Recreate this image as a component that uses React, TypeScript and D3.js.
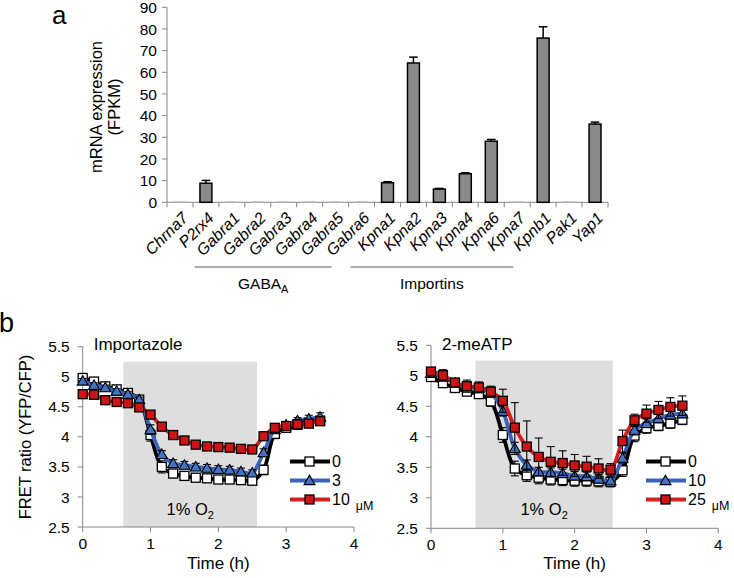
import React from 'react';
import * as d3 from 'd3';

const FONT = "'Liberation Sans', Arial, Helvetica, sans-serif";
const AXIS = '#868686';

// ---------- Panel a data ----------
const genes = ['Chrna7', 'P2rx4', 'Gabra1', 'Gabra2', 'Gabra3', 'Gabra4', 'Gabra5', 'Gabra6', 'Kpna1', 'Kpna2', 'Kpna3', 'Kpna4', 'Kpna6', 'Kpna7', 'Kpnb1', 'Pak1', 'Yap1'];
const expression = [0, 8.8, 0, 0, 0, 0, 0, 0, 9.0, 64.3, 6.1, 13.2, 28.2, 0, 75.8, 0, 36.1];
const expressionErr = [0, 1.3, 0, 0, 0, 0, 0, 0, 0.5, 2.7, 0.3, 0.4, 0.8, 0, 5.2, 0, 0.9];
const yTicksA = [0, 10, 20, 30, 40, 50, 60, 70, 80, 90];
const groupNames = ['GABA', 'Importins'];
const groupSubs = ['A', ''];
const groupFrom = ['Gabra1', 'Kpna1'];
const groupTo = ['Gabra6', 'Kpnb1'];

// ---------- Panel b data ----------
const timeMin = [0, 10, 20, 30, 40, 50, 60, 70, 80, 90, 100, 110, 120, 130, 140, 150, 160, 170, 180, 190, 200, 210];
const xTicksB = [0, 1, 2, 3, 4];
const yTicksB = [2.5, 3, 3.5, 4, 4.5, 5, 5.5];

const impLabels = ['0', '3', '10'];
const impBlack = [4.98, 4.92, 4.84, 4.79, 4.73, 4.62, 4.03, 3.50, 3.39, 3.35, 3.32, 3.31, 3.29, 3.29, 3.28, 3.27, 3.45, 4.05, 4.15, 4.20, 4.24, 4.27];
const impBlackErr = [0.05, 0.05, 0.05, 0.05, 0.05, 0.05, 0.1, 0.1, 0.07, 0.07, 0.06, 0.06, 0.06, 0.06, 0.06, 0.06, 0.08, 0.08, 0.06, 0.06, 0.06, 0.06];
const impBlue = [4.93, 4.86, 4.82, 4.76, 4.71, 4.62, 4.12, 3.71, 3.56, 3.53, 3.50, 3.48, 3.46, 3.45, 3.42, 3.40, 3.74, 4.12, 4.20, 4.27, 4.30, 4.33];
const impBlueErr = [0.04, 0.04, 0.04, 0.04, 0.04, 0.04, 0.08, 0.06, 0.06, 0.06, 0.06, 0.06, 0.06, 0.06, 0.06, 0.05, 0.06, 0.06, 0.05, 0.05, 0.06, 0.07];
const impRed = [4.71, 4.70, 4.61, 4.58, 4.56, 4.49, 4.37, 4.17, 4.03, 3.94, 3.87, 3.84, 3.83, 3.82, 3.80, 3.79, 4.01, 4.15, 4.18, 4.21, 4.22, 4.26];
const impRedErr = [0.05, 0.05, 0.05, 0.05, 0.05, 0.05, 0.05, 0.05, 0.05, 0.05, 0.05, 0.04, 0.04, 0.04, 0.04, 0.04, 0.05, 0.05, 0.05, 0.05, 0.05, 0.05];

const atpLabels = ['0', '10', '25'];
const atpBlack = [4.98, 4.88, 4.80, 4.74, 4.70, 4.58, 4.03, 3.48, 3.37, 3.33, 3.30, 3.29, 3.28, 3.28, 3.27, 3.26, 3.45, 4.02, 4.14, 4.18, 4.22, 4.28];
const atpBlackErr = [0.05, 0.05, 0.05, 0.06, 0.06, 0.08, 0.12, 0.12, 0.1, 0.1, 0.09, 0.09, 0.09, 0.09, 0.09, 0.08, 0.1, 0.1, 0.08, 0.08, 0.08, 0.08];
const atpBlue = [5.04, 4.98, 4.88, 4.82, 4.80, 4.72, 4.42, 3.81, 3.54, 3.43, 3.42, 3.40, 3.36, 3.35, 3.31, 3.28, 3.65, 4.11, 4.22, 4.30, 4.36, 4.38];
const atpBlueErr = [0.04, 0.04, 0.05, 0.05, 0.05, 0.06, 0.08, 0.1, 0.08, 0.07, 0.07, 0.07, 0.07, 0.07, 0.07, 0.06, 0.08, 0.08, 0.07, 0.07, 0.07, 0.07];
const atpRed = [5.07, 5.01, 4.89, 4.83, 4.81, 4.74, 4.59, 4.15, 3.84, 3.67, 3.59, 3.57, 3.53, 3.51, 3.48, 3.46, 3.93, 4.27, 4.38, 4.44, 4.49, 4.51];
const atpRedErr = [0.06, 0.09, 0.06, 0.10, 0.09, 0.09, 0.19, 0.41, 0.42, 0.31, 0.25, 0.20, 0.18, 0.17, 0.16, 0.10, 0.18, 0.10, 0.14, 0.14, 0.15, 0.16];

const impShade = [0.6, 2.57];
const atpShade = [0.62, 2.53];
const shadeTop = 5.25;

const seriesStyles = [
  { line: '#000000', fill: '#ffffff', marker: 'square' },
  { line: '#3b63b8', fill: '#4472c4', marker: 'triangle' },
  { line: '#d42020', fill: '#cc1414', marker: 'square' },
];

function Marker({ kind, cx, cy, fill }: { kind: string; cx: number; cy: number; fill: string }) {
  if (kind === 'square') {
    const s = 9;
    return <rect x={cx - s / 2} y={cy - s / 2} width={s} height={s} fill={fill} stroke="#000" strokeWidth={1.3} />;
  }
  const p = d3.symbol().type(d3.symbolTriangle).size(52)() || '';
  return <path d={p} transform={`translate(${cx},${cy + 1})`} fill={fill} stroke="#000" strokeWidth={1.1} />;
}

function BarPanel() {
  const x = d3.scaleBand<string>().domain(genes).range([167, 608]).paddingInner(0.54).paddingOuter(0.27);
  const y = d3.scaleLinear().domain([0, 90]).range([202.3, 7.3]);
  const bw = x.bandwidth();
  const step = x.step();
  const bounds = genes.map((g) => (x(g) as number) - (step - bw) / 2);
  bounds.push(x.range()[1]);
  return (
    <g fontFamily={FONT}>
      <text x={52} y={24} fontSize={26}>a</text>
      <text transform={`translate(102,107) rotate(-90)`} textAnchor="middle" fontSize={16.5}>mRNA expression</text>
      <text transform={`translate(120,107) rotate(-90)`} textAnchor="middle" fontSize={16.5}>(FPKM)</text>
      <line x1={167} x2={167} y1={y(0)} y2={y(90)} stroke={AXIS} strokeWidth={1} />
      {yTicksA.map((t) => (
        <g key={t}>
          <line x1={162} x2={167} y1={y(t)} y2={y(t)} stroke={AXIS} />
          <text x={157} y={y(t)} dy="0.36em" textAnchor="end" fontSize={15.5}>{t}</text>
        </g>
      ))}
      <line x1={x.range()[0]} x2={x.range()[1]} y1={y(0)} y2={y(0)} stroke={AXIS} />
      {bounds.map((b, i) => (
        <line key={i} x1={b} x2={b} y1={y(0)} y2={y(0) + 5} stroke={AXIS} />
      ))}
      {genes.map((g, i) => {
        const v = expression[i];
        const e = expressionErr[i];
        const x0 = x(g) as number;
        const cx = x0 + bw / 2;
        if (v < 0.5) {
          return <line key={g} x1={x0} x2={x0 + bw} y1={y(0) - 0.5} y2={y(0) - 0.5} stroke="#c4c4c4" strokeWidth={1.5} />;
        }
        return (
          <g key={g}>
            <line x1={cx} x2={cx} y1={y(v)} y2={y(v + e)} stroke="#000" strokeWidth={1.5} />
            <line x1={cx - 4.3} x2={cx + 4.3} y1={y(v + e)} y2={y(v + e)} stroke="#000" strokeWidth={1.5} />
            <rect x={x0} y={y(v)} width={bw} height={y(0) - y(v)} fill="#8a8a8a" stroke="#000" strokeWidth={1.5} />
          </g>
        );
      })}
      {genes.map((g) => {
        const cx = (x(g) as number) + bw / 2;
        return (
          <text key={g} transform={`translate(${cx + 9},219) rotate(-45)`} textAnchor="end" fontSize={16} fontStyle="italic">{g}</text>
        );
      })}
      {groupNames.map((n, i) => {
        const x1 = (x(groupFrom[i]) as number) - 31;
        const x2 = (x(groupTo[i]) as number) + bw - 36;
        return (
          <g key={n}>
            <line x1={x1} x2={x2} y1={267} y2={267} stroke="#555" strokeWidth={1} />
            <text x={(x1 + x2) / 2} y={289} textAnchor="middle" fontSize={15.5}>
              {n}
              {groupSubs[i] ? <tspan fontSize={11} dy={4}>{groupSubs[i]}</tspan> : null}
            </text>
          </g>
        );
      })}
    </g>
  );
}

function FretPanel(props: {
  xr: [number, number];
  yr: [number, number];
  title: string;
  values: number[][];
  errs: number[][];
  labels: string[];
  shade: number[];
  legendX: number;
}) {
  const { xr, yr, title, values, errs, labels, shade, legendX } = props;
  const x = d3.scaleLinear().domain([0, 4]).range(xr);
  const y = d3.scaleLinear().domain([2.5, 5.5]).range(yr);
  const t = timeMin.map((m) => m / 60);
  const line = d3
    .line<number>()
    .x((_, i) => x(t[i]))
    .y((d) => y(d))
    .curve(d3.curveCatmullRom.alpha(0.5));
  const rows = [461.5, 480.5, 499.5];
  return (
    <g fontFamily={FONT}>
      <rect x={x(shade[0])} y={y(shadeTop)} width={x(shade[1]) - x(shade[0])} height={y(2.5) - y(shadeTop)} fill="#dedede" />
      <text x={x((shade[0] + shade[1]) / 2)} y={515} textAnchor="middle" fontSize={16.5}>
        1% O<tspan fontSize={11} dy={4}>2</tspan>
      </text>
      <line x1={xr[0]} x2={xr[0]} y1={yr[0]} y2={yr[1]} stroke={AXIS} />
      <line x1={xr[0]} x2={xr[1]} y1={yr[0]} y2={yr[0]} stroke={AXIS} />
      {yTicksB.map((v) => (
        <g key={v}>
          <line x1={xr[0] - 5} x2={xr[0]} y1={y(v)} y2={y(v)} stroke={AXIS} />
          <text x={xr[0] - 13} y={y(v)} dy="0.36em" textAnchor="end" fontSize={15.5}>{v}</text>
        </g>
      ))}
      {xTicksB.map((v) => (
        <g key={v}>
          <line x1={x(v)} x2={x(v)} y1={yr[0]} y2={yr[0] + 5} stroke={AXIS} />
          <text x={x(v)} y={yr[0] + 22} textAnchor="middle" fontSize={15.5}>{v}</text>
        </g>
      ))}
      <text x={(xr[0] + xr[1]) / 2} y={569} textAnchor="middle" fontSize={17}>Time (h)</text>
      <text x={xr[0] + 11} y={350} fontSize={17}>{title}</text>
      {values.map((vals, si) => {
        const st = seriesStyles[si];
        return (
          <g key={si}>
            <path d={line(vals) || ''} fill="none" stroke={st.line} strokeWidth={3.8} />
            {vals.map((v, i) => {
              const cx = x(t[i]);
              const e = errs[si][i];
              return (
                <g key={i}>
                  <line x1={cx} x2={cx} y1={y(v - e)} y2={y(v + e)} stroke="#000" strokeWidth={1.1} />
                  <line x1={cx - 4} x2={cx + 4} y1={y(v + e)} y2={y(v + e)} stroke="#000" strokeWidth={1.1} />
                  <line x1={cx - 4} x2={cx + 4} y1={y(v - e)} y2={y(v - e)} stroke="#000" strokeWidth={1.1} />
                </g>
              );
            })}
            {vals.map((v, i) => (
              <Marker key={'m' + i} kind={st.marker} cx={x(t[i])} cy={y(v)} fill={st.fill} />
            ))}
          </g>
        );
      })}
      {labels.map((lab, i) => {
        const st = seriesStyles[i];
        return (
          <g key={lab}>
            <line x1={legendX} x2={legendX + 40} y1={rows[i]} y2={rows[i]} stroke={st.line} strokeWidth={4} />
            <Marker kind={st.marker} cx={legendX + 19.5} cy={rows[i]} fill={st.fill} />
            <text x={legendX + 42} y={rows[i] + 5.5} fontSize={16}>
              {lab}
              {i === labels.length - 1 ? <tspan fontSize={12.5} dx={6} dy={5}>μM</tspan> : null}
            </text>
          </g>
        );
      })}
    </g>
  );
}

export default function App() {
  return (
    <svg width={734} height={578} style={{ position: 'absolute', left: 0, top: 0, background: '#fff' }}>
      <rect x={0} y={0} width={734} height={578} fill="#fff" />
      <BarPanel />
      <text x={-1} y={332} fontSize={27} fontFamily={FONT}>b</text>
      <text transform="translate(31,437) rotate(-90)" textAnchor="middle" fontSize={16.5} fontFamily={FONT}>FRET ratio (YFP/CFP)</text>
      <FretPanel
        xr={[82.7, 354]}
        yr={[527, 346.7]}
        title="Importazole"
        values={[impBlack, impBlue, impRed]}
        errs={[impBlackErr, impBlueErr, impRedErr]}
        labels={impLabels}
        shade={impShade}
        legendX={290}
      />
      <FretPanel
        xr={[431, 718.3]}
        yr={[528.3, 345.3]}
        title="2-meATP"
        values={[atpBlack, atpBlue, atpRed]}
        errs={[atpBlackErr, atpBlueErr, atpRedErr]}
        labels={atpLabels}
        shade={atpShade}
        legendX={646}
      />
    </svg>
  );
}
